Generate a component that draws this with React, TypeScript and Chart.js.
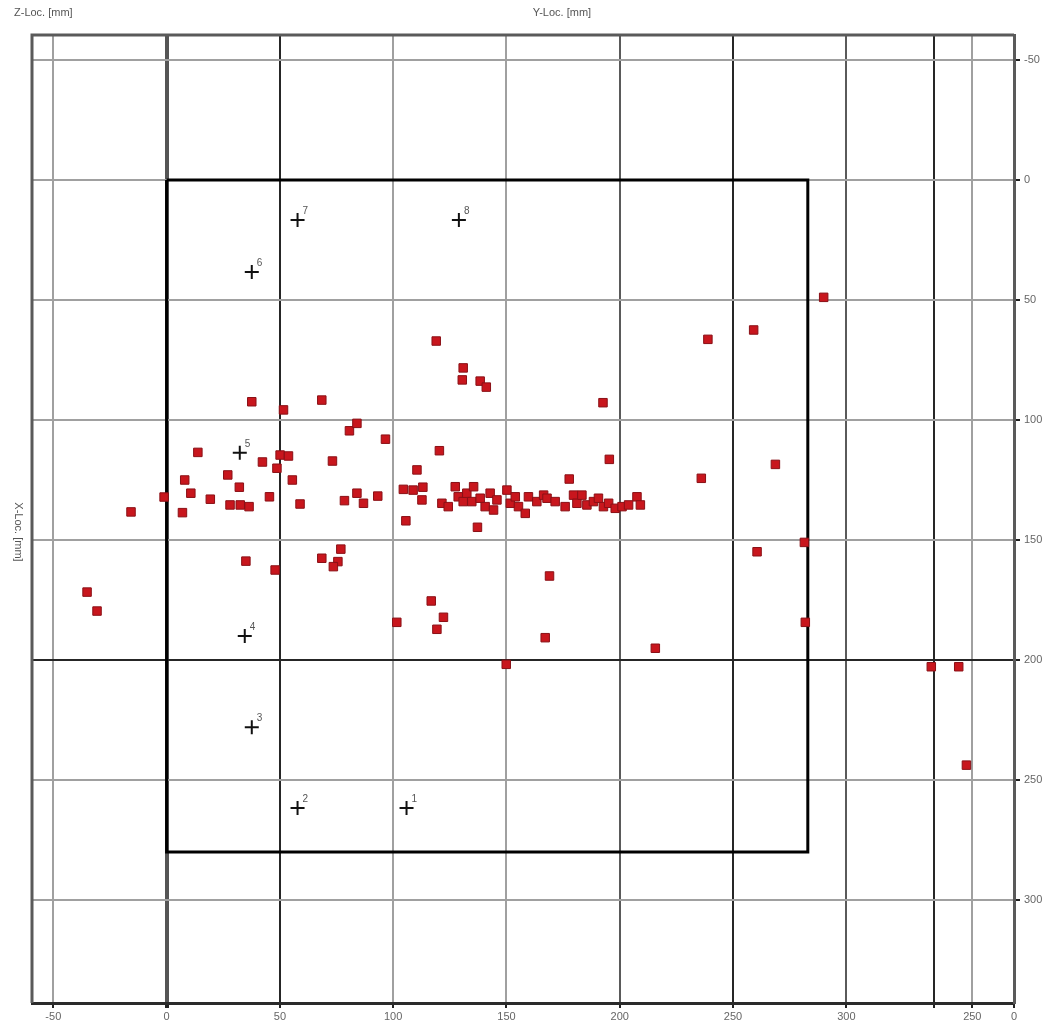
import { useEffect, useRef } from "react";
import { Chart, registerables } from "chart.js";

Chart.register(...registerables);

// Measured defect positions: horizontal = Y-Loc [mm], vertical = X-Loc [mm]
const measYLoc = [
  -35.1, -30.7, -15.7, -1.1, 7.0, 8.0, 10.7, 13.8, 19.3, 27.0, 28.0, 32.1, 32.5, 36.4, 37.6, 42.3,
  45.4, 48.7, 50.1, 53.8, 51.6, 55.5, 58.9, 68.5, 73.2, 78.5, 80.7, 84.0, 84.0, 86.9, 93.2, 96.6,
  104.5, 108.8, 113.1, 112.7, 110.5, 105.6, 120.4, 119.0, 130.9, 130.5, 138.4, 141.1, 137.2,
  35.0, 47.9, 68.5, 76.9, 75.6, 73.6, 169.0, 116.8, 122.2, 119.3, 101.6, 167.1, 149.9,
  290.0, 259.1, 238.9, 192.6, 195.4, 268.7, 236.0, 177.7, 281.5, 260.6, 281.9, 215.7, 337.5, 349.6, 353.0,
  121.5, 124.3, 127.4, 128.7, 130.9, 132.5, 135.5, 134.7, 138.4, 140.6, 142.8, 144.3, 145.8, 150.2,
  151.7, 153.9, 155.3, 158.3, 159.7, 163.4, 166.4,
  167.9, 171.5, 175.9, 179.6, 181.1, 183.3, 185.5, 188.4, 190.6, 192.8, 195.1, 198.0, 201.0, 203.9,
  207.6, 209.1,
];
const measXLoc = [
  171.7, 179.6, 138.3, 132.1, 138.6, 125.0, 130.5, 113.5, 133.0, 122.9, 135.4, 128.0, 135.4, 136.1, 92.4, 117.5,
  132.0, 120.1, 114.6, 115.0, 95.8, 125.0, 135.0, 91.7, 117.1, 133.6, 104.5, 101.4, 130.5, 134.7, 131.7, 108.0,
  128.9, 129.2, 128.0, 133.3, 120.8, 142.0, 112.8, 67.1, 78.3, 83.3, 83.8, 86.3, 144.7,
  158.8, 162.5, 157.6, 153.8, 159.0, 161.1, 165.0, 175.4, 182.2, 187.2, 184.3, 190.7, 201.8,
  48.9, 62.5, 66.4, 92.8, 116.4, 118.5, 124.3, 124.6, 151.0, 154.9, 184.3, 195.1, 202.8, 202.8, 243.8,
  134.7, 136.1, 127.8, 132.0, 134.0, 130.5, 127.8, 134.0, 132.6, 136.1, 130.5, 137.5, 133.3, 129.2,
  134.7, 132.0, 136.1, 138.9, 132.0, 134.0, 131.3,
  132.6, 134.0, 136.1, 131.3, 134.7, 131.3, 135.4, 134.0, 132.6, 136.1, 134.7, 136.8, 136.1, 135.4,
  132.0, 135.4,
];

// Probe positions with their numbers
const probeYLoc = [57.8, 129.0, 37.6, 32.3, 34.5, 37.6, 57.8, 105.9];
const probeXLoc = [16.7, 16.7, 38.3, 113.7, 190.0, 228.0, 261.7, 261.7];
const probeLabels = ["7", "8", "6", "5", "4", "3", "2", "1"];

// Part outline (Y-Loc, X-Loc corners)
const outlineYLoc = [0, 283, 283, 0, 0];
const outlineXLoc = [0, 0, 280, 280, 0];

// Axis ticks
const yLocTicks = [-50, 0, 50, 100, 150, 200, 250, 300, 338.9, 355.6, 374];
const yLocTickLabels = ["-50", "0", "50", "100", "150", "200", "250", "300", "", "250", "0"];
const xLocTicks = [-50, 0, 50, 100, 150, 200, 250, 300];

const GRID_DARK = "#262626";
const GRID_MID = "#5a5a5a";
const GRID_LIGHT = "#a0a0a0";
const TICK_FONT = { family: "'Liberation Sans Narrow', 'Liberation Sans', sans-serif", size: 11 };

const xGridColor: Record<number, string> = {
  [-50]: GRID_LIGHT, 0: "#555", 50: GRID_DARK, 100: GRID_LIGHT, 150: GRID_LIGHT, 200: GRID_MID,
  250: GRID_DARK, 300: GRID_MID, 338.9: GRID_DARK, 355.6: GRID_LIGHT, 374: "#555",
};
const yGridColor: Record<number, string> = {
  [-50]: GRID_LIGHT, 0: GRID_LIGHT, 50: GRID_LIGHT, 100: GRID_LIGHT, 150: GRID_LIGHT,
  200: GRID_DARK, 250: GRID_LIGHT, 300: GRID_LIGHT,
};

const framePlugin = {
  id: "frameAndTitles",
  beforeDatasetsDraw(chart: any) {
    const { ctx, chartArea } = chart;
    ctx.save();
    ctx.strokeStyle = "#5a5a5a";
    ctx.lineWidth = 3;
    ctx.beginPath();
    ctx.moveTo(chartArea.left, chartArea.bottom);
    ctx.lineTo(chartArea.left, chartArea.top);
    ctx.lineTo(chartArea.right, chartArea.top);
    ctx.stroke();
    ctx.restore();
  },
  afterDraw(chart: any) {
    const { ctx } = chart;
    ctx.save();
    ctx.fillStyle = "#555";
    ctx.font = "11px 'Liberation Sans Narrow', 'Liberation Sans', sans-serif";
    ctx.textBaseline = "middle";
    ctx.textAlign = "left";
    ctx.fillText("Z-Loc. [mm]", 14, 13);
    ctx.textAlign = "center";
    ctx.fillText("Y-Loc. [mm]", 562, 13);
    ctx.translate(18, 532);
    ctx.rotate(Math.PI / 2);
    ctx.fillText("X-Loc. [mm]", 0, 0);
    ctx.restore();

    // probe numbers
    const meta = chart.getDatasetMeta(1);
    ctx.save();
    ctx.fillStyle = "#555";
    ctx.font = "10px 'Liberation Sans', sans-serif";
    ctx.textAlign = "left";
    ctx.textBaseline = "middle";
    meta.data.forEach((pt: any, i: number) => {
      ctx.fillText(probeLabels[i], pt.x + 5, pt.y - 9);
    });
    ctx.restore();
  },
};

export default function App() {
  const canvasRef = useRef<HTMLCanvasElement | null>(null);

  useEffect(() => {
    if (!canvasRef.current) return;
    const chart = new Chart(canvasRef.current, {
      type: "scatter",
      data: {
        datasets: [
          {
            label: "Measurements",
            data: measYLoc.map((v, i) => ({ x: v, y: measXLoc[i] })),
            pointStyle: "rect",
            pointRadius: 6,
            backgroundColor: "#c8161d",
            borderColor: "#8a1016",
            borderWidth: 1,
            order: 0,
          },
          {
            label: "Probes",
            data: probeYLoc.map((v, i) => ({ x: v, y: probeXLoc[i] })),
            pointStyle: "cross",
            pointRadius: 7,
            borderColor: "#111",
            borderWidth: 2,
            order: 1,
          },
          {
            label: "Outline",
            type: "line",
            data: outlineYLoc.map((v, i) => ({ x: v, y: outlineXLoc[i] })),
            showLine: true,
            borderColor: "#000",
            borderWidth: 3,
            pointRadius: 0,
            fill: false,
            order: 2,
          } as any,
        ],
      },
      options: {
        animation: false,
        responsive: false,
        events: [],
        layout: { padding: { left: 32, top: 35, right: 0, bottom: 0 } },
        plugins: { legend: { display: false }, tooltip: { enabled: false } },
        scales: {
          x: {
            type: "linear",
            position: "bottom",
            min: -59.4,
            max: 374,
            afterBuildTicks: (scale: any) => {
              scale.ticks = yLocTicks.map((v) => ({ value: v }));
            },
            afterFit: (scale: any) => {
              scale.height = 20;
            },
            ticks: {
              autoSkip: false,
              maxRotation: 0,
              padding: 2,
              color: "#666",
              font: TICK_FONT,
              callback: (v: any) => {
                const i = yLocTicks.indexOf(Number(v));
                return i >= 0 ? yLocTickLabels[i] : "";
              },
            },
            grid: {
              color: (c: any) => xGridColor[c.tick?.value] ?? GRID_LIGHT,
              lineWidth: (c: any) => (c.tick?.value === 0 ? 4 : 2),
              tickLength: 5,
              tickColor: "#222",
            },
            border: { display: true, color: "#2a2a2a", width: 3 },
          },
          y: {
            type: "linear",
            position: "right",
            reverse: true,
            min: -60.4,
            max: 342.9,
            afterBuildTicks: (scale: any) => {
              scale.ticks = xLocTicks.map((v) => ({ value: v }));
            },
            afterFit: (scale: any) => {
              scale.width = 44;
            },
            ticks: {
              autoSkip: false,
              padding: 4,
              color: "#666",
              font: TICK_FONT,
              callback: (v: any) => String(v),
            },
            grid: {
              color: (c: any) => yGridColor[c.tick?.value] ?? GRID_LIGHT,
              lineWidth: 2,
              tickLength: 6,
              tickColor: "#222",
            },
            border: { display: true, color: "#5a5a5a", width: 3 },
          },
        },
      },
      plugins: [framePlugin],
    });
    return () => chart.destroy();
  }, []);

  return (
    <div style={{ position: "absolute", left: 0, top: 0, width: 1058, height: 1023, background: "#fff" }}>
      <canvas ref={canvasRef} width={1058} height={1023} style={{ display: "block" }} />
    </div>
  );
}
